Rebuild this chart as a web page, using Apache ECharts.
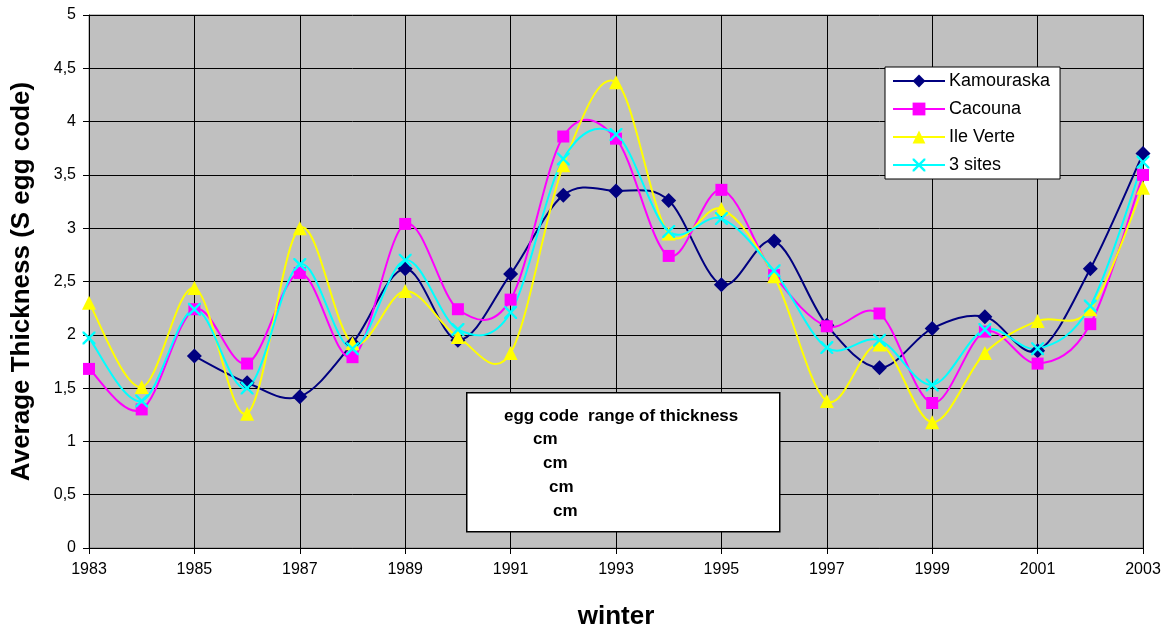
<!DOCTYPE html>
<html>
<head>
<meta charset="utf-8">
<script src="https://cdn.jsdelivr.net/npm/echarts@6/dist/echarts.min.js"></script>
<style>
  html, body { margin: 0; padding: 0; background: #fff; }
  #chart { width: 1174px; height: 633px; }
</style>
</head>
<body>
<div id="chart"></div>
<script>
// winters on the x axis
var winters = ['1983','1984','1985','1986','1987','1988','1989','1990','1991','1992','1993',
               '1994','1995','1996','1997','1998','1999','2000','2001','2002','2003'];

// average thickness per site
var kamouraska = [null, null, 1.80, 1.55, 1.42, 1.92, 2.62, 1.95, 2.57, 3.31, 3.35,
                  3.26, 2.47, 2.88, 2.09, 1.69, 2.06, 2.17, 1.85, 2.62, 3.70];
var cacouna    = [1.68, 1.30, 2.24, 1.73, 2.58, 1.79, 3.04, 2.24, 2.33, 3.86, 3.84,
                  2.74, 3.36, 2.56, 2.08, 2.20, 1.36, 2.03, 1.73, 2.10, 3.50];
var ileVerte   = [2.30, 1.51, 2.44, 1.26, 3.00, 1.92, 2.41, 1.98, 1.83, 3.59, 4.37,
                  2.95, 3.18, 2.55, 1.38, 1.91, 1.18, 1.83, 2.13, 2.24, 3.38];
var troisSites = [1.97, 1.38, 2.24, 1.50, 2.66, 1.87, 2.70, 2.05, 2.21, 3.65, 3.88,
                  2.97, 3.09, 2.60, 1.88, 1.95, 1.53, 2.05, 1.87, 2.27, 3.62];

var crossIcon = 'path://M0,0L1.3,0L5,3.7L8.7,0L10,0L10,1.3L6.3,5L10,8.7L10,10L8.7,10L5,6.3L1.3,10L0,10L0,8.7L3.7,5L0,1.3Z';

var chart = echarts.init(document.getElementById('chart'));

// markers only; the curve itself is drawn by curve() below
function marks(name, data, color, symbol, size) {
    return {
        name: name,
        type: 'line',
        data: data,
        symbol: symbol,
        symbolSize: size,
        showAllSymbol: true,
        lineStyle: { color: color, width: 2, opacity: 0 },
        itemStyle: { color: color },
        z: 4
    };
}

// Excel-like smoothed line (Catmull-Rom segments as bezier curves)
function curve(values, color) {
    return {
        type: 'custom',
        data: [[0, 0]],
        silent: true,
        z: 3,
        renderItem: function (params, api) {
            var pts = [];
            values.forEach(function (v, i) {
                if (v != null) pts.push(api.coord([i, v]));
            });
            var kids = [];
            for (var k = 0; k < pts.length - 1; k++) {
                var p0 = pts[k - 1] || pts[k], p1 = pts[k], p2 = pts[k + 1], p3 = pts[k + 2] || pts[k + 1];
                kids.push({
                    type: 'bezierCurve',
                    shape: {
                        x1: p1[0], y1: p1[1], x2: p2[0], y2: p2[1],
                        cpx1: p1[0] + (p2[0] - p0[0]) / 6, cpy1: p1[1] + (p2[1] - p0[1]) / 6,
                        cpx2: p2[0] - (p3[0] - p1[0]) / 6, cpy2: p2[1] - (p3[1] - p1[1]) / 6
                    },
                    style: { fill: null, stroke: color, lineWidth: 2 }
                });
            }
            return { type: 'group', children: kids };
        }
    };
}

function legendItem(name, color) {
    return { name: name, lineStyle: { color: color, width: 2, opacity: 1 } };
}

var option = {
    animation: false,
    textStyle: { fontFamily: 'Arial, "Liberation Sans", sans-serif' },
    grid: {
        left: 89, right: 31, top: 15, bottom: 85,
        outerBoundsMode: 'none',
        containLabel: false,
        show: true,
        backgroundColor: '#C0C0C0',
        borderColor: '#808080',
        borderWidth: 1
    },
    legend: {
        orient: 'vertical',
        left: 885, top: 67,
        backgroundColor: '#fff',
        borderColor: '#000',
        borderWidth: 1,
        borderRadius: 0,
        padding: [5, 10, 5, 7],
        itemWidth: 52,
        itemHeight: 16,
        itemGap: 10,
        textStyle: { fontSize: 18, color: '#000', padding: [0, 0, 0, -1] },
        data: [
            legendItem('Kamouraska', '#000080'),
            legendItem('Cacouna', '#FF00FF'),
            legendItem('Ile Verte', '#FFFF00'),
            legendItem('3 sites', '#00FFFF')
        ]
    },
    xAxis: {
        type: 'category',
        data: winters,
        boundaryGap: false,
        name: 'winter',
        nameLocation: 'middle',
        nameGap: 56,
        nameTextStyle: { fontSize: 26, fontWeight: 'bold', color: '#000' },
        axisLine: { lineStyle: { color: '#000', width: 1 } },
        axisTick: { interval: 1, length: 6, lineStyle: { color: '#000' } },
        axisLabel: { interval: 1, fontSize: 16, color: '#000', margin: 14 },
        splitLine: { show: true, interval: 1, lineStyle: { color: '#000', width: 1 } }
    },
    yAxis: {
        type: 'value',
        min: 0, max: 5, interval: 0.5,
        name: 'Average Thickness (S egg code)',
        nameLocation: 'middle',
        nameGap: 54,
        nameTextStyle: { fontSize: 26, fontWeight: 'bold', color: '#000' },
        axisLine: { show: true, lineStyle: { color: '#000' } },
        axisTick: { show: true, length: 6, lineStyle: { color: '#000' } },
        axisLabel: {
            fontSize: 16, color: '#000', margin: 13,
            formatter: function (v) { return String(v).replace('.', ','); }
        },
        splitLine: { show: true, lineStyle: { color: '#000', width: 1 } }
    },
    series: [
        curve(kamouraska, '#000080'),
        curve(cacouna, '#FF00FF'),
        curve(ileVerte, '#FFFF00'),
        curve(troisSites, '#00FFFF'),
        marks('Kamouraska', kamouraska, '#000080', 'diamond', 15),
        marks('Cacouna', cacouna, '#FF00FF', 'rect', 12),
        marks('Ile Verte', ileVerte, '#FFFF00', 'triangle', 14),
        marks('3 sites', troisSites, '#00FFFF', crossIcon, 13)
    ],
    graphic: [
        {
            type: 'rect', left: 466, top: 392, z: 10,
            shape: { width: 313, height: 139 },
            style: { fill: '#fff', stroke: '#000', lineWidth: 1.5 }
        },
        {
            type: 'text', left: 504, top: 408, z: 11,
            style: { text: 'egg code  range of thickness', font: 'bold 17px Arial', fill: '#000' }
        },
        { type: 'text', left: 533, top: 431, z: 11, style: { text: 'cm', font: 'bold 17px Arial', fill: '#000' } },
        { type: 'text', left: 543, top: 455, z: 11, style: { text: 'cm', font: 'bold 17px Arial', fill: '#000' } },
        { type: 'text', left: 549, top: 479, z: 11, style: { text: 'cm', font: 'bold 17px Arial', fill: '#000' } },
        { type: 'text', left: 553, top: 503, z: 11, style: { text: 'cm', font: 'bold 17px Arial', fill: '#000' } }
    ]
};

chart.setOption(option);
</script>
</body>
</html>
